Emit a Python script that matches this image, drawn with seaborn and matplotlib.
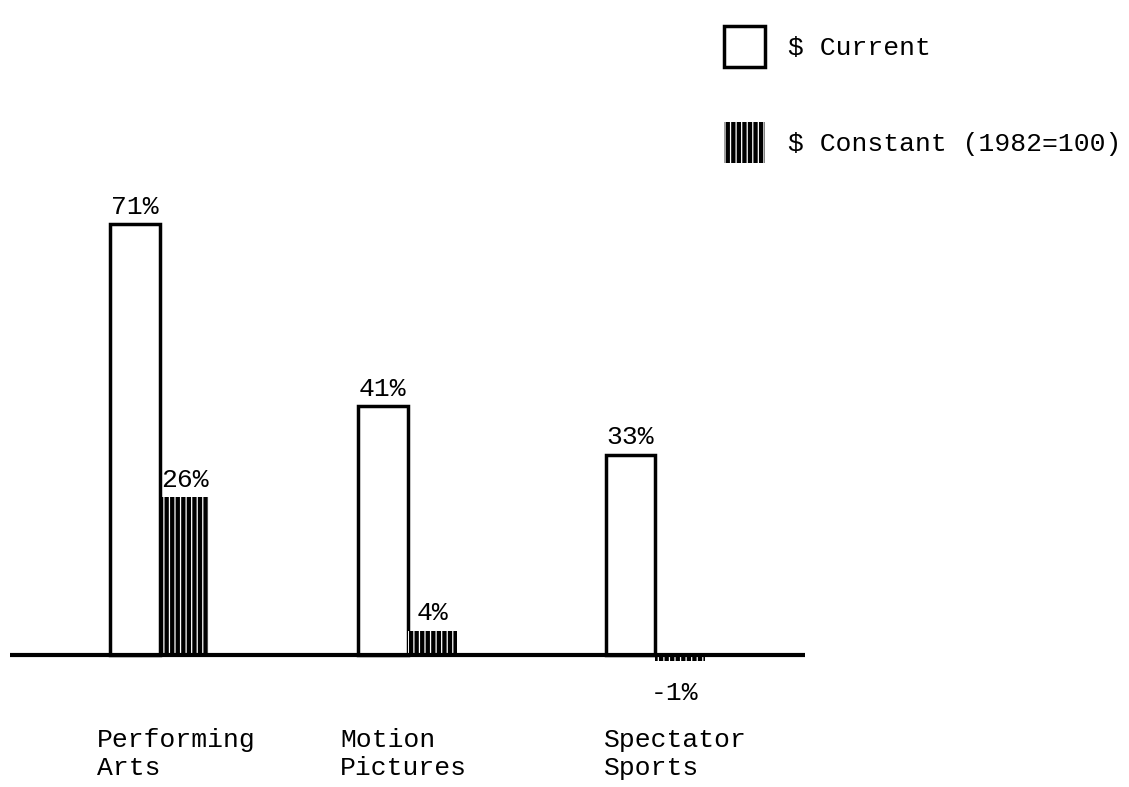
import pandas as pd
import matplotlib.pyplot as plt
import matplotlib.transforms as mtransforms
import seaborn as sns
from matplotlib.patches import Patch

# values
categories = ["Performing\nArts", "Motion\nPictures", "Spectator\nSports"]
current = [71, 41, 33]
constant = [26, 4, -1]
series_names = ["$ Current", "$ Constant (1982=100)"]

df = pd.DataFrame({
    "category": categories * 2,
    "series": [series_names[0]] * 3 + [series_names[1]] * 3,
    "value": current + constant,
})

sns.set_theme(style="white")
plt.rcParams["font.family"] = ["Liberation Mono", "DejaVu Sans"]
plt.rcParams["text.color"] = "black"
plt.rcParams["xtick.color"] = "black"
plt.rcParams["hatch.linewidth"] = 0.9

fig = plt.figure(figsize=(11.29, 7.87), dpi=100)
ax = fig.add_axes([10 / 1129, 87 / 787, 795 / 1129, 550 / 787])

sns.barplot(data=df, x="category", y="value", hue="series", order=categories,
            hue_order=series_names, width=0.4, legend=False, ax=ax)

# style the two series like the printed chart
for bar in ax.containers[0]:
    bar.set_facecolor("white")
    bar.set_edgecolor("black")
    bar.set_linewidth(2.5)
for bar in ax.containers[1]:
    bar.set_facecolor("black")
    bar.set_edgecolor("white")
    bar.set_hatch("|||")
    bar.set_linewidth(0)

ax.bar_label(ax.containers[0], labels=[f"{v}%" for v in current], padding=4,
             fontsize=19, color="black")
lbls = ax.bar_label(ax.containers[1], labels=[f"{v}%" for v in constant], padding=4,
                    fontsize=19, color="black")
# negative label sits a bit lower in the original
lbls[2].xyann = (-4, -14)

ax.axhline(0, color="black", lw=3)
ax.set_xlim(-0.606, 2.606)
ax.set_ylim(-7.4, 83.2)
sns.despine(ax=ax, left=True, bottom=True)
ax.set_yticks([])
ax.set_xlabel("")
ax.set_ylabel("")
ax.tick_params(axis="x", length=0, pad=20, labelsize=19)
shifts = [16, -4, 20]
for lbl, dx in zip(ax.get_xticklabels(), shifts):
    lbl.set_multialignment("left")
    lbl.set_linespacing(1.2)
    lbl.set_transform(lbl.get_transform() + mtransforms.ScaledTranslation(dx / 100, 0, fig.dpi_scale_trans))

handles = [Patch(facecolor="white", edgecolor="black", linewidth=2.5),
           Patch(facecolor="black", edgecolor="white", hatch="|||", linewidth=0)]
fig.legend(handles, series_names, loc="upper left", bbox_to_anchor=(700 / 1129, 1 - 2 / 787),
           frameon=False, fontsize=19, handlelength=1.55, handleheight=2.0,
           labelspacing=2.1, handletextpad=0.9)

plt.savefig("out.png", dpi=100)
